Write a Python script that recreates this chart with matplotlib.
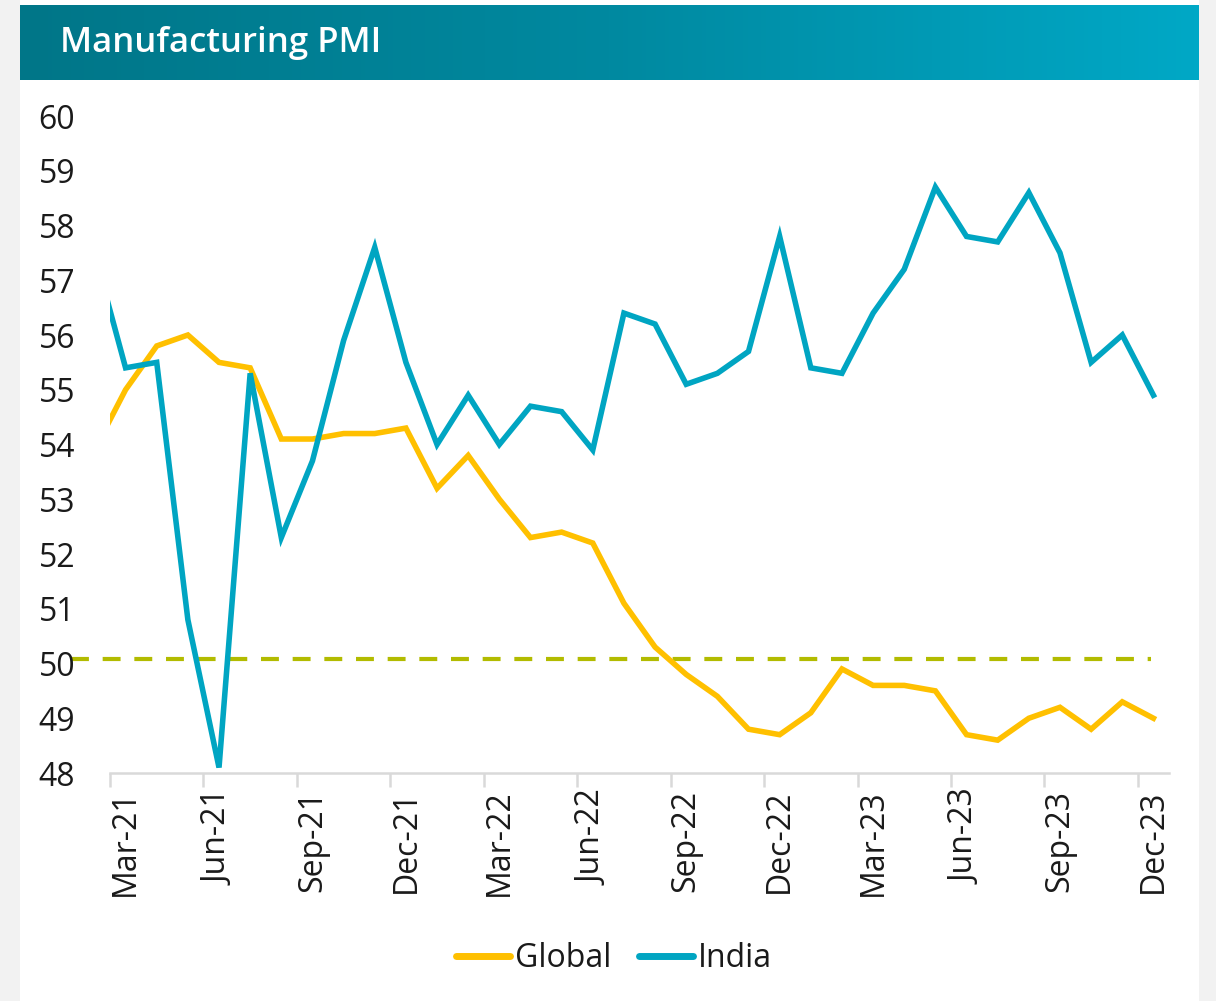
import matplotlib.pyplot as plt
import numpy as np
from matplotlib.patches import Rectangle
from matplotlib.colors import LinearSegmentedColormap

# Datos mensuales (Feb-21 a Dec-23); el primer punto queda fuera del eje
meses = ["Feb-21", "Mar-21", "Apr-21", "May-21", "Jun-21", "Jul-21", "Aug-21", "Sep-21",
         "Oct-21", "Nov-21", "Dec-21", "Jan-22", "Feb-22", "Mar-22", "Apr-22", "May-22",
         "Jun-22", "Jul-22", "Aug-22", "Sep-22", "Oct-22", "Nov-22", "Dec-22", "Jan-23",
         "Feb-23", "Mar-23", "Apr-23", "May-23", "Jun-23", "Jul-23", "Aug-23", "Sep-23",
         "Oct-23", "Nov-23", "Dec-23"]
global_pmi = [53.9, 55.0, 55.8, 56.0, 55.5, 55.4, 54.1, 54.1, 54.2, 54.2, 54.3, 53.2,
              53.8, 53.0, 52.3, 52.4, 52.2, 51.1, 50.3, 49.8, 49.4, 48.8, 48.7, 49.1,
              49.9, 49.6, 49.6, 49.5, 48.7, 48.6, 49.0, 49.2, 48.8, 49.3, 49.0]
india_pmi = [57.5, 55.4, 55.5, 50.8, 48.1, 55.3, 52.3, 53.7, 55.9, 57.6, 55.5, 54.0,
             54.9, 54.0, 54.7, 54.6, 53.9, 56.4, 56.2, 55.1, 55.3, 55.7, 57.8, 55.4,
             55.3, 56.4, 57.2, 58.7, 57.8, 57.7, 58.6, 57.5, 55.5, 56.0, 54.9]
umbral = 50.08

x = np.arange(len(meses)) - 1  # Mar-21 = 0
fuente = "Open Sans"
tam = 23

fig = plt.figure(figsize=(12.16, 10.01), dpi=100)
fig.patch.set_facecolor("#f2f2f2")

# Tarjeta blanca (fondo)
ax_bg = fig.add_axes([0, 0, 1, 1], zorder=-10)
ax_bg.set_axis_off()
ax_bg.set_xlim(0, 1216)
ax_bg.set_ylim(1001, 0)
ax_bg.add_patch(Rectangle((20, 0), 1179, 1001, facecolor="white", edgecolor="none"))

# Banda del titulo con degradado
ax_t = fig.add_axes([20 / 1216, 1 - 80 / 1001, 1179 / 1216, 75 / 1001])
grad = np.linspace(0, 1, 256).reshape(1, -1)
cmap = LinearSegmentedColormap.from_list("banda", ["#007688", "#0089a0", "#00a8c6"])
ax_t.imshow(grad, aspect="auto", cmap=cmap, extent=[0, 1, 0, 1])
ax_t.set_axis_off()
ax_t.text(40 / 1179, 0.5, "Manufacturing PMI", color="white", fontsize=25,
          fontweight="semibold", family=fuente, va="center", ha="left")

# Grafico principal
ax = fig.add_axes([110 / 1216, 228 / 1001, 1059 / 1216, 657 / 1001])
ax.set_facecolor("none")
ax.plot(x, global_pmi, color="#FFC000", lw=4, label="Global", solid_joinstyle="miter")
ax.plot(x, india_pmi, color="#00A5C2", lw=4, label="India", solid_joinstyle="miter")
ax.plot([-1.75, 32.92], [umbral, umbral], color="#B2BB00", lw=3, ls=(0, (4.3, 3.3)),
        clip_on=False, zorder=1)

ax.set_xlim(-0.5, 33.5)
ax.set_ylim(48, 60)

for lado in ["left", "right", "top"]:
    ax.spines[lado].set_visible(False)
ax.spines["bottom"].set_color("#d9d9d9")
ax.spines["bottom"].set_linewidth(1.8)

ax.set_xticks(np.arange(0, 34, 3))
ax.set_xticklabels(meses[1::3], rotation=90, fontsize=tam, family=fuente, color="#1a1a1a")
ax.set_xticks(np.arange(-0.5, 33, 3), minor=True)
ax.tick_params(axis="x", which="major", length=0, pad=12)
ax.tick_params(axis="x", which="minor", length=10, width=1.8, color="#d9d9d9")

ax.set_yticks(np.arange(48, 61, 1))
ax.set_yticklabels([str(v) for v in range(48, 61)], fontsize=tam, family=fuente, color="#1a1a1a")
ax.tick_params(axis="y", length=0, pad=25)

leg = fig.legend(loc="center", bbox_to_anchor=(0.505, 0.042), ncol=2, frameon=False,
                 prop={"family": fuente, "size": tam}, handlelength=1.7,
                 handletextpad=0.15, columnspacing=0.85)
for h in leg.get_lines():
    h.set_linewidth(5)
    h.set_solid_capstyle("round")
for t in leg.get_texts():
    t.set_color("#1a1a1a")

fig.savefig("out.png", dpi=100, facecolor=fig.get_facecolor())
